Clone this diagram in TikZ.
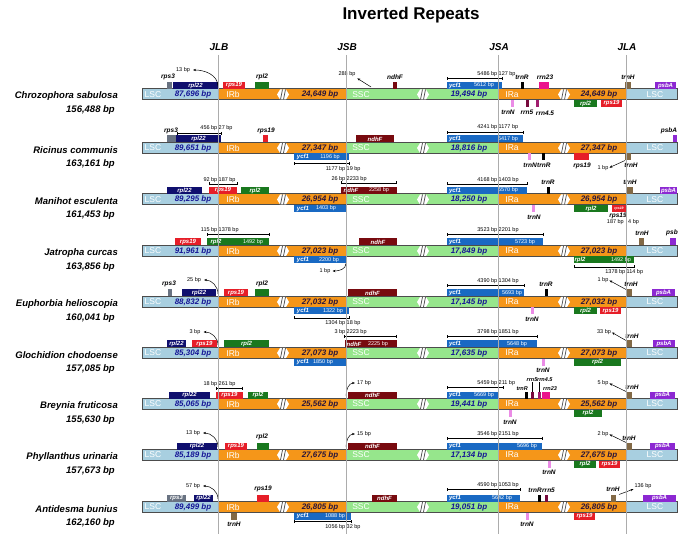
\documentclass[tikz,border=0pt]{standalone}
\usepackage{fontspec}
\setmainfont{Liberation Sans}
\usetikzlibrary{arrows.meta}

\definecolor{lsccol}{RGB}{168,207,224}
\definecolor{ircol}{RGB}{245,150,25}
\definecolor{ssccol}{RGB}{150,230,140}
\definecolor{navycol}{RGB}{15,15,110}
\definecolor{redcol}{RGB}{230,30,40}
\definecolor{greencol}{RGB}{25,120,30}
\definecolor{bluecol}{RGB}{25,105,195}
\definecolor{ndhcol}{RGB}{120,10,15}
\definecolor{browncol}{RGB}{130,105,70}
\definecolor{purplecol}{RGB}{140,40,210}
\definecolor{graycol}{RGB}{105,115,130}
\definecolor{pinkcol}{RGB}{235,140,230}
\definecolor{rrnpink}{RGB}{235,20,140}
\definecolor{rrnfive}{RGB}{120,10,60}
\definecolor{rrnfour}{RGB}{160,30,110}
\definecolor{lscnum}{RGB}{20,20,150}
\definecolor{irnum}{RGB}{40,20,60}

\tikzset{
  titletxt/.style={font=\fontsize{17}{17}\selectfont\bfseries, inner sep=0pt},
  juntxt/.style={font=\fontsize{10}{10}\selectfont\bfseries\itshape, inner sep=0pt},
  sptxt/.style={font=\fontsize{9.5}{9.5}\selectfont\bfseries\itshape, inner sep=0pt, anchor=east},
  segtxt/.style={font=\fontsize{8.5}{8.5}\selectfont, text=white, inner sep=0pt},
  numtxt/.style={font=\fontsize{8}{8}\selectfont\bfseries\itshape, inner sep=0pt},
  gbox/.style={rectangle, minimum height=7pt, inner sep=0pt, outer sep=0pt, text=white,
    font=\fontsize{6}{6}\selectfont\bfseries\itshape},
  gwhite/.style={text=white, font=\fontsize{6}{6}\selectfont\bfseries\itshape, inner sep=0pt},
  gwhitenum/.style={text=white, font=\fontsize{5.5}{5.5}\selectfont, inner sep=0pt},
  glbl/.style={font=\fontsize{6.5}{6.5}\selectfont\bfseries\itshape, inner sep=0pt},
  glbls/.style={font=\fontsize{5.5}{5.5}\selectfont\bfseries\itshape, inner sep=0pt},
  bptxt/.style={font=\fontsize{5.5}{5.5}\selectfont, inner sep=0pt},
  dimline/.style={{Bar[width=3pt]}-{Bar[width=3pt]}, line width=0.45pt},
  ptr/.style={-{Stealth[length=3pt,width=2.4pt]}, line width=0.5pt},
  baredge/.style={draw=black!70, line width=1pt},
  junction/.style={draw=gray!65, line width=0.6pt}
}

% bar of one genome: prefix, LSC, IR, SSC, name, length
\newcommand{\genomebar}[6]{%
  \fill[lsccol] (142,-5.5) rectangle (218,5.5);
  \fill[ircol] (218,-5.5) rectangle (346,5.5);
  \fill[ssccol] (346,-5.5) rectangle (498,5.5);
  \fill[ircol] (498,-5.5) rectangle (626,5.5);
  \fill[lsccol] (626,-5.5) rectangle (677,5.5);
  \draw[baredge] (142,-5.5) rectangle (677,5.5);
  \foreach \bx in {277,417,558} {
    \fill[white] (\bx,0) -- (\bx+3,-5) -- (\bx+9,-5) -- (\bx+12,0) -- (\bx+9,5) -- (\bx+3,5) -- cycle;
    \draw[black!70, line width=0.7pt] (\bx+3.5,5) -- (\bx+5.5,-5) (\bx+6.5,5) -- (\bx+8.5,-5);
  }
  \node[segtxt] (#1lsc) at (153,0) {LSC};
  \node[numtxt, text=lscnum] (#1lscbp) at (193,0) {#2 bp};
  \node[segtxt] (#1irb) at (233,0) {IRb};
  \node[numtxt, text=irnum] (#1irbbp) at (320,0) {#3 bp};
  \node[segtxt] (#1ssc) at (361,0) {SSC};
  \node[numtxt, text=lscnum] (#1sscbp) at (469,0) {#4 bp};
  \node[segtxt] (#1ira) at (512,0) {IRa};
  \node[numtxt, text=irnum] (#1irabp) at (599,0) {#3 bp};
  \node[segtxt] (#1lscb) at (655,0) {LSC};
  \node[sptxt] (#1name) at (118,2) {#5};
  \node[sptxt] (#1len) at (115,16) {#6 bp};
}
\newcommand{\geneup}[5]{%
  \node[gbox, fill=#4, minimum width={(#3-#2)*1pt}, anchor=south west] (#1) at (#2,-5.5) {#5};}
\newcommand{\genedown}[5]{%
  \node[gbox, fill=#4, minimum width={(#3-#2)*1pt}, anchor=north west] (#1) at (#2,5.5) {#5};}
% name, y, x1, xm, x2, left text, right text, text y
\newcommand{\dimbar}[8]{%
  \draw[dimline] (#3,#2) -- (#5,#2);
  \draw[line width=0.45pt] (#4,#2-1.5) -- (#4,#2+1.5);
  \node[bptxt, anchor=east] (#1a) at (#4-0.5,#8) {#6};
  \node[bptxt, anchor=west] (#1b) at (#4+0.5,#8) {#7};}

\begin{document}
\begin{tikzpicture}[x=1pt,y=-1pt]
  \useasboundingbox (0,0) rectangle (685,534);

  \node[titletxt] (title) at (411,15) {Inverted Repeats};
  \node[juntxt] (jlb) at (219,47) {JLB};
  \node[juntxt] (jsb) at (347,47) {JSB};
  \node[juntxt] (jsa) at (499,47) {JSA};
  \node[juntxt] (jla) at (627,47) {JLA};

  % Chrozophora
  \begin{scope}[yshift=-94.5pt]
    \genomebar{r1}{87,696}{24,649}{19,494}{Chrozophora sabulosa}{156,488}
    \geneup{r1rps3}{167}{172}{graycol}{}
    \node[glbl] (r1rps3l) at (168,-17.5) {rps3};
    \geneup{r1rpl22}{173}{218}{navycol}{rpl22}
    \node[bptxt] (r1jlb) at (183,-24.5) {13 bp};
    \coordinate (r1jlbp) at (218,-8);
    \draw[ptr] (r1jlbp) to[out=90,in=0] ([xshift=3pt]r1jlb.east);
    \geneup{r1rps19}{223}{245}{redcol}{rps19}
    \geneup{r1rpl2}{255}{269}{greencol}{}
    \node[glbl] (r1rpl2l) at (262,-17.5) {rpl2};
    \node[bptxt] (r1jsb) at (347,-20) {288 bp};
    \coordinate (r1jsbp) at (371,-7.5);
    \draw[ptr, shorten >=2pt] (r1jsbp) -- (r1jsb.south east);
    \geneup{r1ndhf}{393}{397}{ndhcol}{}
    \node[glbl] (r1ndhfl) at (395,-17.5) {ndhF};
    \geneup{r1ycf1}{447}{502}{bluecol}{}
    \node[gwhite] (r1ycf1a) at (455,-9) {ycf1};
    \node[gwhitenum] (r1ycf1b) at (484,-9) {5612 bp};
    \dimbar{r1da}{-16}{447}{498}{502}{5486 bp}{127 bp}{-20}
    \geneup{r1trnr}{521}{523.5}{black}{}
    \node[glbl] (r1trnrl) at (522,-17.5) {trnR};
    \geneup{r1rrn23}{539}{549}{rrnpink}{}
    \node[glbl] (r1rrn23l) at (545,-17.5) {rrn23};
    \genedown{r1trnn}{511}{513.5}{pinkcol}{}
    \node[glbl] (r1trnnl) at (508,17.5) {trnN};
    \genedown{r1rrn5}{526}{528.5}{rrnfive}{}
    \node[glbl] (r1rrn5l) at (527,17.5) {rrn5};
    \genedown{r1rrn45}{536}{538.5}{rrnfour}{}
    \node[glbl] (r1rrn45l) at (545,18.5) {rrn4.5};
    \genedown{r1rpl2b}{574}{597}{greencol}{rpl2}
    \genedown{r1rps19b}{601}{622}{redcol}{rps19}
    \geneup{r1trnh}{625}{631}{browncol}{}
    \node[glbl] (r1trnhl) at (628,-17.5) {trnH};
    \geneup{r1psba}{655}{676}{purplecol}{psbA}
  \end{scope}

  % Ricinus
  \begin{scope}[yshift=-148pt]
    \genomebar{r2}{89,651}{27,347}{18,816}{Ricinus communis}{163,161}
    \geneup{r2rps3}{167}{176}{graycol}{}
    \node[glbl] (r2rps3l) at (171,-17.5) {rps3};
    \geneup{r2rpl22}{176}{221}{navycol}{rpl22}
    \dimbar{r2dl}{-14.5}{177}{218}{221}{456 bp}{27 bp}{-19.5}
    \geneup{r2rps19}{263}{268}{redcol}{}
    \node[glbl] (r2rps19l) at (266,-17.5) {rps19};
    \genedown{r2ycf1}{294}{349}{bluecol}{}
    \node[gwhite] (r2ycf1a) at (303,9) {ycf1};
    \node[gwhitenum] (r2ycf1b) at (330,9) {1196 bp};
    \dimbar{r2ds}{15.5}{294}{346}{349}{1177 bp}{19 bp}{21.5}
    \geneup{r2ndhf}{356}{394}{ndhcol}{ndhF}
    \geneup{r2ycf1c}{447}{523}{bluecol}{}
    \node[gwhite] (r2ycf1d) at (455,-9) {ycf1};
    \node[gwhitenum] (r2ycf1e) at (508,-9) {5417 bp};
    \dimbar{r2da}{-15.5}{447}{498}{523}{4241 bp}{1177 bp}{-20.5}
    \genedown{r2trnn}{528}{530.5}{pinkcol}{}
    \genedown{r2trnr}{542}{544.5}{black}{}
    \node[glbl, anchor=east] (r2trnnl) at (537,17.5) {trnN};
    \node[glbl, anchor=west] (r2trnrl) at (537,17.5) {trnR};
    \genedown{r2rps19b}{574}{589}{redcol}{}
    \node[glbl] (r2rps19l) at (582,17.5) {rps19};
    \genedown{r2trnh}{625}{631}{browncol}{}
    \node[glbl] (r2trnhl) at (631,17.5) {trnH};
    \node[bptxt] (r2jla) at (603,20) {1 bp};
    \draw[ptr, shorten >=1pt] (r2trnh.south west) -- (r2jla.east);
    \geneup{r2psba}{673}{677}{purplecol}{}
    \node[glbl] (r2psbal) at (669,-17) {psbA};
  \end{scope}

  % Manihot
  \begin{scope}[yshift=-199.5pt]
    \genomebar{r3}{89,295}{26,954}{18,250}{Manihot esculenta}{161,453}
    \geneup{r3rpl22}{167}{202}{navycol}{rpl22}
    \geneup{r3rps19}{209}{237}{redcol}{rps19}
    \geneup{r3rpl2}{241}{269}{greencol}{rpl2}
    \dimbar{r3dl}{-15.5}{209}{218}{237}{92 bp}{187 bp}{-19.5}
    \genedown{r3ycf1}{294}{346}{bluecol}{}
    \node[gwhite] (r3ycf1a) at (303,9) {ycf1};
    \node[gwhitenum] (r3ycf1b) at (326,9) {1403 bp};
    \geneup{r3ndhf}{341}{397}{ndhcol}{}
    \node[gwhite] (r3ndhfa) at (351,-9) {ndhF};
    \node[gwhitenum] (r3ndhfb) at (379,-9) {2258 bp};
    \dimbar{r3ds}{-16.5}{341}{346}{396}{26 bp}{2233 bp}{-20.5}
    \geneup{r3ycf1c}{447}{527}{bluecol}{}
    \node[gwhite] (r3ycf1d) at (455,-9) {ycf1};
    \node[gwhitenum] (r3ycf1e) at (508,-9) {5570 bp};
    \dimbar{r3da}{-15.5}{447}{498}{527}{4168 bp}{1403 bp}{-19.5}
    \geneup{r3trnr}{547}{549.5}{black}{}
    \node[glbl] (r3trnrl) at (548,-17.5) {trnR};
    \genedown{r3trnn}{532}{534.5}{pinkcol}{}
    \node[glbl] (r3trnnl) at (534,17.5) {trnN};
    \genedown{r3rpl2b}{574}{608}{greencol}{rpl2}
    \genedown{r3rps19b}{612}{626}{redcol}{\fontsize{3.5}{3.5}\selectfont rps19}
    \node[glbl] (r3rps19l) at (618,16.5) {rps19};
    \node[bptxt, anchor=east] (r3dja) at (624,22.5) {187 bp};
    \node[bptxt, anchor=west] (r3djb) at (628,22.5) {4 bp};
    \geneup{r3trnh}{627}{633}{browncol}{}
    \node[glbl] (r3trnhl) at (630,-17) {trnH};
    \geneup{r3psba}{660}{677}{purplecol}{psbA}
  \end{scope}

  % Jatropha
  \begin{scope}[yshift=-251pt]
    \genomebar{r4}{91,961}{27,023}{17,849}{Jatropha curcas}{163,856}
    \geneup{r4rps19}{175}{201}{redcol}{rps19}
    \geneup{r4rpl2}{207}{269}{greencol}{}
    \node[gwhite] (r4rpl2a) at (216,-9) {rpl2};
    \node[gwhitenum] (r4rpl2b) at (253,-9) {1492 bp};
    \dimbar{r4dl}{-16.5}{207}{218}{269}{115 bp}{1378 bp}{-20.5}
    \genedown{r4ycf1}{294}{346}{bluecol}{}
    \node[gwhite] (r4ycf1a) at (303,9) {ycf1};
    \node[gwhitenum] (r4ycf1b) at (329,9) {2200 bp};
    \node[bptxt] (r4jsb) at (325,20) {1 bp};
    \draw[ptr] (r4ycf1.south east) to[out=-90,in=0] ([xshift=2pt]r4jsb.east);
    \geneup{r4ndhf}{359}{397}{ndhcol}{ndhF}
    \geneup{r4ycf1c}{447}{543}{bluecol}{}
    \node[gwhite] (r4ycf1d) at (455,-9) {ycf1};
    \node[gwhitenum] (r4ycf1e) at (525,-9) {5723 bp};
    \dimbar{r4da}{-16.5}{447}{498}{543}{3523 bp}{2201 bp}{-20.5}
    \genedown{r4rpl2c}{574}{634}{greencol}{}
    \node[gwhite] (r4rpl2d) at (580,9) {rpl2};
    \node[gwhitenum] (r4rpl2e) at (621,9) {1492 bp};
    \dimbar{r4dj}{16}{574}{626}{634}{1378 bp}{114 bp}{21}
    \geneup{r4trnh}{639}{644}{browncol}{}
    \node[glbl] (r4trnhl) at (642,-18) {trnH};
    \geneup{r4psb}{670}{676}{purplecol}{}
    \node[glbl] (r4psbl) at (672,-18) {psb};
  \end{scope}

  % Euphorbia
  \begin{scope}[yshift=-302pt]
    \genomebar{r5}{88,832}{27,032}{17,145}{Euphorbia helioscopia}{160,041}
    \geneup{r5rps3}{168}{172}{graycol}{}
    \node[glbl] (r5rps3l) at (169,-18) {rps3};
    \geneup{r5rpl22}{182}{216}{navycol}{rpl22}
    \node[bptxt] (r5jlb) at (194,-22) {25 bp};
    \coordinate (r5jlbp) at (218,-8);
    \draw[ptr] (r5jlbp) to[out=90,in=0] ([xshift=3pt]r5jlb.east);
    \geneup{r5rps19}{224}{248}{redcol}{rps19}
    \geneup{r5rpl2}{255}{269}{greencol}{}
    \node[glbl] (r5rpl2l) at (262,-18) {rpl2};
    \genedown{r5ycf1}{294}{349}{bluecol}{}
    \node[gwhite] (r5ycf1a) at (303,9) {ycf1};
    \node[gwhitenum] (r5ycf1b) at (333,9) {1322 bp};
    \dimbar{r5ds}{16}{294}{346}{349}{1304 bp}{18 bp}{21}
    \geneup{r5ndhf}{348}{397}{ndhcol}{ndhF}
    \geneup{r5ycf1c}{447}{524}{bluecol}{}
    \node[gwhite] (r5ycf1d) at (455,-9) {ycf1};
    \node[gwhitenum] (r5ycf1e) at (512,-9) {5693 bp};
    \dimbar{r5da}{-16.5}{447}{498}{524}{4390 bp}{1304 bp}{-20.5}
    \geneup{r5trnr}{545}{547.5}{black}{}
    \node[glbl] (r5trnrl) at (546,-18) {trnR};
    \genedown{r5trnn}{531}{533.5}{pinkcol}{}
    \node[glbl] (r5trnnl) at (532,17.5) {trnN};
    \genedown{r5rpl2b}{574}{597}{greencol}{rpl2}
    \genedown{r5rps19b}{600}{621}{redcol}{rps19}
    \geneup{r5trnh}{626}{632}{browncol}{}
    \node[glbl] (r5trnhl) at (631,-17.5) {trnH};
    \node[bptxt] (r5jla) at (603,-22) {1 bp};
    \draw[ptr, shorten >=1pt] (r5trnh.north west) -- (r5jla.east);
    \geneup{r5psba}{652}{675}{purplecol}{psbA}
  \end{scope}

  % Glochidion
  \begin{scope}[yshift=-353pt]
    \genomebar{r6}{85,304}{27,073}{17,635}{Glochidion chodoense}{157,085}
    \node[bptxt] (r6jlb) at (195,-21) {3 bp};
    \coordinate (r6jlbp) at (218,-8);
    \draw[ptr] (r6jlbp) to[out=90,in=0] ([xshift=3pt]r6jlb.east);
    \geneup{r6rpl22}{167}{186}{navycol}{rpl22}
    \geneup{r6rps19}{192}{217}{redcol}{rps19}
    \geneup{r6rpl2}{224}{269}{greencol}{rpl2}
    \genedown{r6ycf1}{294}{346}{bluecol}{}
    \node[gwhite] (r6ycf1a) at (303,9) {ycf1};
    \node[gwhitenum] (r6ycf1b) at (323,9) {1850 bp};
    \geneup{r6ndhf}{345}{397}{ndhcol}{}
    \node[gwhite] (r6ndhfa) at (354,-9) {ndhF};
    \node[gwhitenum] (r6ndhfb) at (378,-9) {2225 bp};
    \dimbar{r6ds}{-16.5}{344}{346}{396}{3 bp}{2223 bp}{-20.5}
    \geneup{r6ycf1c}{447}{537}{bluecol}{}
    \node[gwhite] (r6ycf1d) at (455,-9) {ycf1};
    \node[gwhitenum] (r6ycf1e) at (517,-9) {5648 bp};
    \dimbar{r6da}{-16.5}{447}{498}{537}{3798 bp}{1851 bp}{-20.5}
    \genedown{r6trnn}{542}{544.5}{pinkcol}{}
    \node[glbl] (r6trnnl) at (543,17.5) {trnN};
    \genedown{r6rpl2b}{574}{621}{greencol}{rpl2}
    \geneup{r6trnh}{626}{632}{browncol}{}
    \node[glbl] (r6trnhl) at (632,-17) {trnH};
    \node[bptxt] (r6jla) at (604,-21) {33 bp};
    \draw[ptr, shorten >=1pt] (r6trnh.north west) -- (r6jla.east);
    \geneup{r6psba}{653}{675}{purplecol}{psbA}
  \end{scope}

  % Breynia
  \begin{scope}[yshift=-404pt]
    \genomebar{r7}{85,065}{25,562}{19,441}{Breynia fruticosa}{155,630}
    \geneup{r7rpl22}{169}{210}{navycol}{rpl22}
    \geneup{r7rps19}{216}{243}{redcol}{rps19}
    \geneup{r7rpl2}{248}{268}{greencol}{rpl2}
    \dimbar{r7dl}{-16}{216}{218}{242}{18 bp}{261 bp}{-20}
    \geneup{r7ndhf}{348}{397}{ndhcol}{ndhF}
    \node[bptxt] (r7jsb) at (364,-21) {17 bp};
    \coordinate (r7jsbp) at (346,-8);
    \draw[ptr] (r7jsbp) to[out=90,in=180] ([xshift=-2pt]r7jsb.west);
    \geneup{r7ycf1}{447}{499}{bluecol}{}
    \node[gwhite] (r7ycf1a) at (455,-9) {ycf1};
    \node[gwhitenum] (r7ycf1b) at (484,-9) {5669 bp};
    \dimbar{r7da}{-16.5}{447}{498}{503}{5459 bp}{211 bp}{-20.5}
    \geneup{r7trnr}{525}{527.5}{black}{}
    \node[glbls, anchor=east] (r7trnrl) at (528,-15.5) {trnR};
    \geneup{r7rrn5}{531}{534}{rrnfive}{}
    \node[glbls] (r7rrn5l) at (532,-24) {rrn5};
    \draw[line width=0.4pt] (r7rrn5.north) -- (r7rrn5.north |- r7rrn5l.south);
    \geneup{r7rrn45}{538}{541}{rrnfour}{}
    \node[glbls, anchor=west] (r7rrn45l) at (537,-24) {rrn4.5};
    \draw[line width=0.4pt] (r7rrn45.north) -- (r7rrn45.north |- r7rrn45l.south);
    \geneup{r7rrn23}{542}{550}{rrnpink}{}
    \node[glbls, anchor=west] (r7rrn23l) at (543,-15.5) {rrn23};
    \genedown{r7trnn}{509}{511.5}{pinkcol}{}
    \node[glbl] (r7trnnl) at (510,18) {trnN};
    \genedown{r7rpl2b}{574}{602}{greencol}{rpl2}
    \geneup{r7trnh}{626}{632}{browncol}{}
    \node[glbl] (r7trnhl) at (632,-17) {trnH};
    \node[bptxt] (r7jla) at (603,-21) {5 bp};
    \draw[ptr, shorten >=1pt] (r7trnh.north west) -- (r7jla.east);
    \geneup{r7psba}{650}{675}{purplecol}{psbA}
  \end{scope}

  % Phyllanthus
  \begin{scope}[yshift=-455pt]
    \genomebar{r8}{85,189}{27,675}{17,134}{Phyllanthus urinaria}{157,673}
    \node[bptxt] (r8jlb) at (193,-22) {13 bp};
    \coordinate (r8jlbp) at (218,-8);
    \draw[ptr] (r8jlbp) to[out=90,in=0] ([xshift=3pt]r8jlb.east);
    \geneup{r8rpl22}{177}{217}{navycol}{rpl22}
    \geneup{r8rps19}{225}{247}{redcol}{rps19}
    \geneup{r8rpl2}{257}{269}{greencol}{}
    \node[glbl] (r8rpl2l) at (262,-18) {rpl2};
    \node[bptxt] (r8jsb) at (364,-21) {15 bp};
    \coordinate (r8jsbp) at (346,-8);
    \draw[ptr] (r8jsbp) to[out=90,in=180] ([xshift=-2pt]r8jsb.west);
    \geneup{r8ndhf}{348}{397}{ndhcol}{ndhF}
    \geneup{r8ycf1}{447}{542}{bluecol}{}
    \node[gwhite] (r8ycf1a) at (455,-9) {ycf1};
    \node[gwhitenum] (r8ycf1b) at (527,-9) {5696 bp};
    \dimbar{r8da}{-17}{447}{498}{542}{3546 bp}{2151 bp}{-21}
    \genedown{r8trnn}{548}{550.5}{pinkcol}{}
    \node[glbl] (r8trnnl) at (549,17.5) {trnN};
    \genedown{r8rpl2b}{574}{596}{greencol}{rpl2}
    \genedown{r8rps19b}{599}{620}{redcol}{rps19}
    \geneup{r8trnh}{626}{632}{browncol}{}
    \node[glbl] (r8trnhl) at (629,-17) {trnH};
    \node[bptxt] (r8jla) at (603,-21) {2 bp};
    \draw[ptr, shorten >=1pt] (r8trnh.north west) -- (r8jla.east);
    \geneup{r8psba}{650}{675}{purplecol}{psbA}
  \end{scope}

  % Antidesma
  \begin{scope}[yshift=-507pt]
    \genomebar{r9}{89,499}{26,805}{19,051}{Antidesma bunius}{162,160}
    \node[bptxt] (r9jlb) at (193,-21) {57 bp};
    \coordinate (r9jlbp) at (218,-8);
    \draw[ptr] (r9jlbp) to[out=90,in=0] ([xshift=3pt]r9jlb.east);
    \geneup{r9rps3}{167}{186}{graycol}{rps3}
    \geneup{r9rpl22}{194}{213}{navycol}{rpl22}
    \geneup{r9rps19}{257}{269}{redcol}{}
    \node[glbl] (r9rps19l) at (263,-18) {rps19};
    \genedown{r9trnh}{231}{237}{browncol}{}
    \node[glbl] (r9trnhl) at (234,17.5) {trnH};
    \genedown{r9ycf1}{294}{351}{bluecol}{}
    \node[gwhite] (r9ycf1a) at (303,9) {ycf1};
    \node[gwhitenum] (r9ycf1b) at (335,9) {1088 bp};
    \dimbar{r9ds}{14.5}{294}{346}{351}{1056 bp}{32 bp}{20}
    \geneup{r9ndhf}{372}{397}{ndhcol}{ndhF}
    \geneup{r9ycf1c}{447}{520}{bluecol}{}
    \node[gwhite] (r9ycf1d) at (455,-9) {ycf1};
    \node[gwhitenum] (r9ycf1e) at (502,-9) {5642 bp};
    \dimbar{r9da}{-17.5}{447}{498}{520}{4590 bp}{1053 bp}{-21.5}
    \geneup{r9trnr}{538}{540.5}{black}{}
    \geneup{r9rrn5}{545}{548}{rrnfive}{}
    \node[glbl, anchor=east] (r9trnrl) at (542,-16.5) {trnR};
    \node[glbl, anchor=west] (r9rrn5l) at (542,-16.5) {rrn5};
    \genedown{r9trnn}{526}{528.5}{pinkcol}{}
    \node[glbl] (r9trnnl) at (527,17.5) {trnN};
    \genedown{r9rps19b}{574}{595}{redcol}{rps19}
    \geneup{r9trnh}{611}{616}{browncol}{}
    \node[glbl] (r9trnhl) at (613,-18) {trnH};
    \node[bptxt] (r9jla) at (643,-21) {136 bp};
    \draw[ptr, shorten >=1pt] ([xshift=3pt]r9trnh.north east) -- (r9jla.south west);
    \geneup{r9psba}{643}{676}{purplecol}{psbA}
  \end{scope}

  % junction lines
  \foreach \jx in {218,346,498,626}
    \draw[junction] (\jx,55) -- (\jx,534);
\end{tikzpicture}
\end{document}
